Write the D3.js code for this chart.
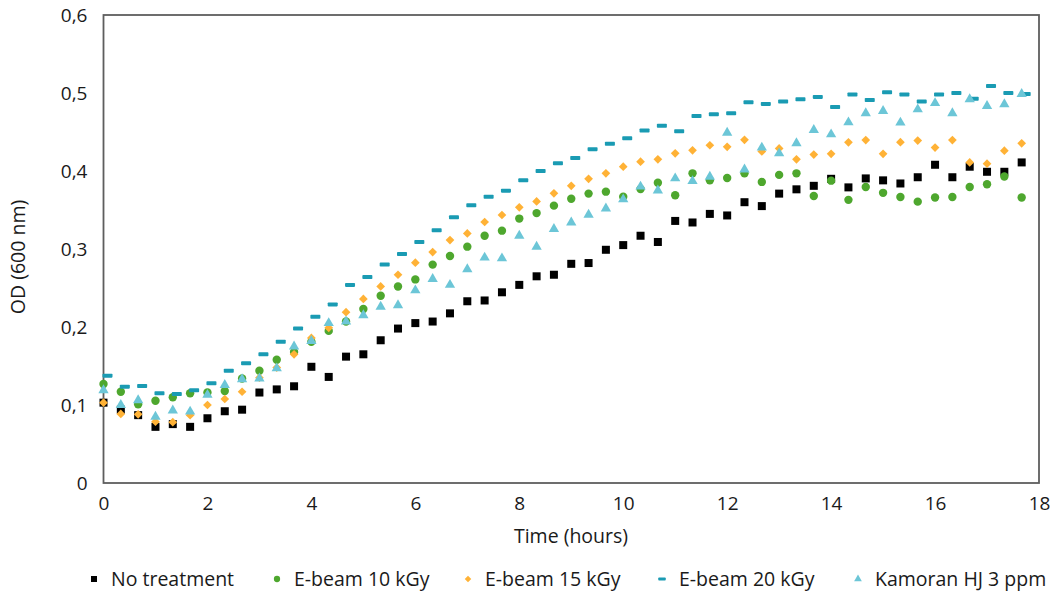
<!DOCTYPE html>
<html>
<head>
<meta charset="utf-8">
<script src="https://cdn.jsdelivr.net/npm/d3@7"></script>
<style>
  html, body { margin: 0; padding: 0; background: #fff; }
  svg { display: block; font-family: "Open Sans", "Liberation Sans", sans-serif; }
</style>
</head>
<body>
<svg id="chart" width="1055" height="592"></svg>
<script>
// ---- data (time step = 20 min) ----
const timeHours = d3.range(54).map(i => i / 3);
const xTicks = [0, 2, 4, 6, 8, 10, 12, 14, 16, 18];
const yTicks = [0, 0.1, 0.2, 0.3, 0.4, 0.5, 0.6];
const seriesNames = ["No treatment", "E-beam 10 kGy", "E-beam 15 kGy", "E-beam 20 kGy", "Kamoran HJ 3 ppm"];

const noTreatment = [0.103,0.094,0.087,0.072,0.0755,0.072,0.083,0.092,0.094,0.116,0.120,0.124,
  0.149,0.136,0.162,0.165,0.183,0.198,0.205,0.207,0.2175,0.233,0.234,0.2445,0.254,0.265,0.267,
  0.281,0.282,0.299,0.305,0.317,0.309,0.336,0.334,0.345,0.343,0.360,0.355,0.371,0.3765,0.381,
  0.390,0.379,0.3905,0.388,0.384,0.392,0.408,0.392,0.4055,0.399,0.399,0.411];
const ebeam10 = [0.127,0.117,0.101,0.1055,0.110,0.115,0.116,0.118,0.134,0.144,0.158,0.168,
  0.181,0.195,0.207,0.223,0.240,0.252,0.261,0.280,0.291,0.303,0.317,0.3235,0.339,0.346,0.3556,
  0.3645,0.371,0.3735,0.367,0.377,0.385,0.369,0.397,0.388,0.391,0.397,0.386,0.395,0.397,0.368,
  0.3876,0.363,0.3795,0.372,0.3667,0.3607,0.366,0.3667,0.3795,0.383,0.393,0.366];
const ebeam15 = [0.103,0.0885,0.088,0.0786,0.078,0.087,0.100,0.1077,0.117,0.135,0.148,0.165,
  0.186,0.199,0.219,0.236,0.252,0.267,0.2825,0.296,0.3115,0.320,0.3346,0.3436,0.3534,0.361,0.3714,
  0.381,0.390,0.397,0.4056,0.412,0.415,0.4226,0.4265,0.433,0.431,0.440,0.425,0.429,0.415,0.421,
  0.422,0.4367,0.4397,0.422,0.437,0.439,0.430,0.4397,0.411,0.4094,0.426,0.4355];
const ebeam20 = [0.1376,0.1235,0.1244,0.115,0.114,0.119,0.1278,0.144,0.1534,0.165,0.181,0.198,
  0.213,0.229,0.254,0.264,0.280,0.2936,0.309,0.324,0.3406,0.356,0.367,0.3748,0.388,0.400,0.410,
  0.4167,0.428,0.435,0.442,0.452,0.458,0.451,0.4705,0.4726,0.474,0.488,0.486,0.489,0.492,0.495,
  0.482,0.498,0.491,0.501,0.498,0.489,0.498,0.500,0.4927,0.509,0.500,0.4987];
const kamoran = [0.119,0.100,0.106,0.085,0.093,0.0915,0.113,0.1256,0.133,0.134,0.147,0.175,
  0.182,0.205,0.207,0.215,0.226,0.228,0.247,0.2615,0.254,0.274,0.289,0.288,0.317,0.303,0.3256,
  0.334,0.344,0.352,0.3636,0.380,0.375,0.3906,0.387,0.3927,0.449,0.402,0.430,0.4226,0.4355,0.4526,
  0.447,0.4624,0.474,0.477,0.462,0.479,0.487,0.474,0.492,0.4833,0.4855,0.4987];

const seriesValues = [noTreatment, ebeam10, ebeam15, ebeam20, kamoran];
const seriesColors = ["#000000", "#4ea72e", "#ffb236", "#1a9bb3", "#6cc6d7"];
const seriesShapes = ["square", "circle", "diamond", "dash", "triangle"];

// ---- layout ----
const svg = d3.select("#chart");
const x = d3.scaleLinear().domain([0, 18]).range([103.5, 1039]);
const y = d3.scaleLinear().domain([0, 0.6]).range([483, 15]);

// frame
svg.append("rect")
  .attr("x", x(0)).attr("y", y(0.6))
  .attr("width", x(18) - x(0)).attr("height", y(0) - y(0.6))
  .attr("fill", "none").attr("stroke", "#5e5e5e").attr("stroke-width", 1.8);

// axes
const xAxis = svg.append("g").attr("transform", `translate(0,${y(0)})`)
  .call(d3.axisBottom(x).tickValues(xTicks).tickSize(0).tickPadding(14).tickFormat(d => d));
const yAxis = svg.append("g").attr("transform", `translate(${x(0)},0)`)
  .call(d3.axisLeft(y).tickValues(yTicks).tickSize(0).tickPadding(16)
    .tickFormat(d => d === 0 ? "0" : d3.format(".1f")(d).replace(".", ",")));
[xAxis, yAxis].forEach(g => {
  g.select(".domain").remove();
  g.selectAll("text").attr("font-family", "Open Sans").attr("font-size", 19).attr("fill", "#1a1a1a");
});

// axis titles
svg.append("text").attr("x", 571).attr("y", 543).attr("text-anchor", "middle")
  .attr("font-size", 19.5).attr("fill", "#1a1a1a").text("Time (hours)");
svg.append("text").attr("transform", "translate(25,257) rotate(-90)").attr("text-anchor", "middle")
  .attr("font-size", 19.5).attr("fill", "#1a1a1a").text("OD (600 nm)");

// marker drawing
function drawMarker(sel, shape, color, scale) {
  const s = scale || 1;
  if (shape === "square") {
    sel.append("rect").attr("x", -4 * s).attr("y", -4 * s).attr("width", 8 * s).attr("height", 8 * s).attr("fill", color);
  } else if (shape === "circle") {
    sel.append("circle").attr("r", 4.2 * s).attr("fill", color);
  } else if (shape === "diamond") {
    sel.append("path").attr("d", d3.symbol(d3.symbolSquare, 38 * s * s)()).attr("transform", "rotate(45)").attr("fill", color);
  } else if (shape === "dash") {
    sel.append("rect").attr("x", -5 * s).attr("y", -2 * s).attr("width", 10 * s).attr("height", 4 * s).attr("rx", 0.8).attr("fill", color);
  } else if (shape === "triangle") {
    sel.append("path").attr("d", d3.symbol(d3.symbolTriangle, 46 * s * s)()).attr("fill", color);
  }
}

// points
seriesValues.forEach((vals, si) => {
  const dx = seriesShapes[si] === "dash" ? 4 : 0;
  const g = svg.append("g").attr("class", "series-" + si);
  g.selectAll("g.pt").data(vals.map((v, i) => ({ t: timeHours[i], v })))
    .enter().append("g").attr("class", "pt")
    .attr("transform", d => `translate(${x(d.t) + dx},${y(d.v)})`)
    .each(function () { drawMarker(d3.select(this), seriesShapes[si], seriesColors[si], 1); });
});

// legend (fixed item slots matching the reference layout)
const legendSlots = [94, 277, 468, 662, 858];
const legend = svg.append("g").attr("transform", "translate(0,579)");
seriesNames.forEach((name, i) => {
  const lx = legendSlots[i];
  const m = legend.append("g").attr("transform", `translate(${lx},0)`);
  drawMarker(m, seriesShapes[i], seriesColors[i], 0.75);
  legend.append("text").attr("x", lx + 17).attr("y", 7).attr("font-size", 19.5)
    .attr("fill", "#1a1a1a").text(name);
});
</script>
</body>
</html>
